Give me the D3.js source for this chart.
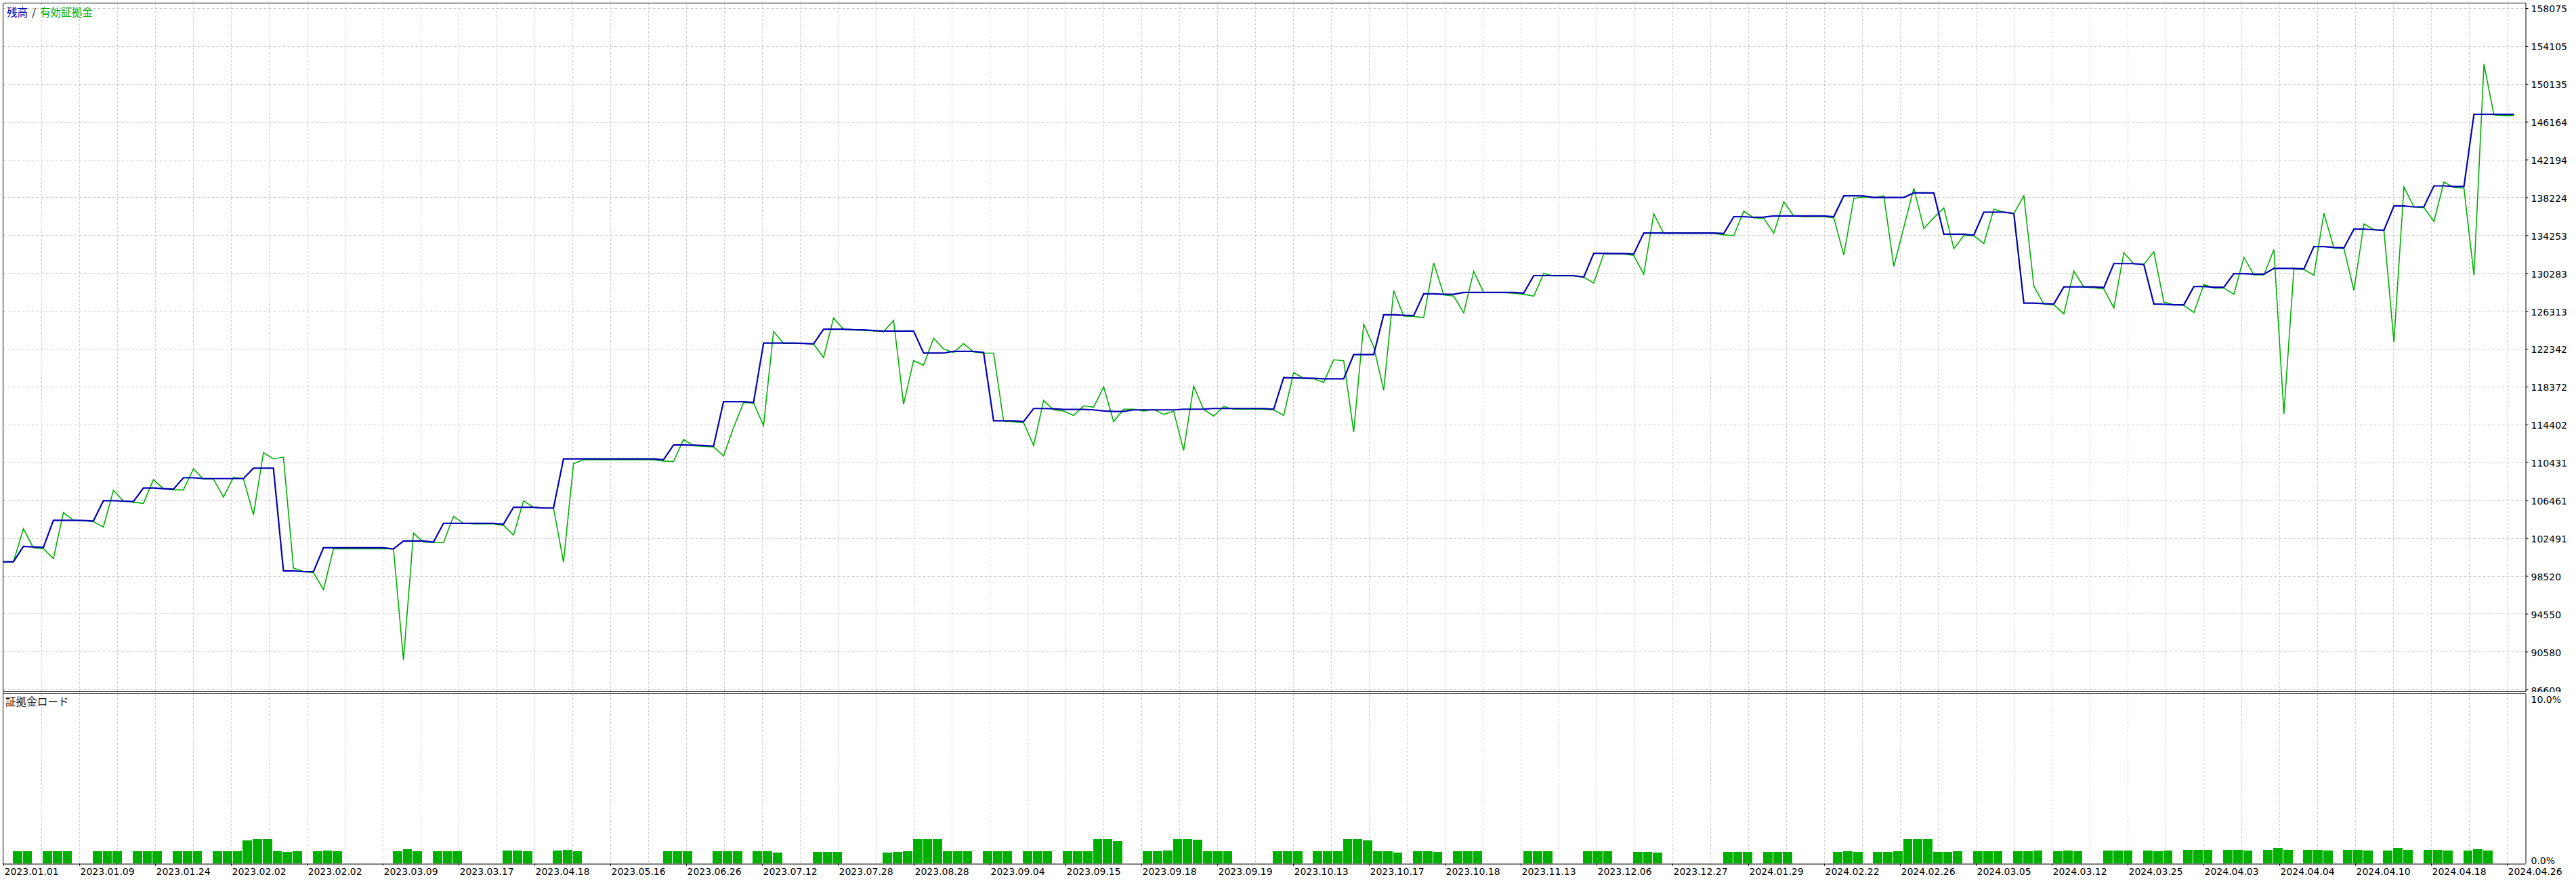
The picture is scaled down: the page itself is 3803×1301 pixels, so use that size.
<!DOCTYPE html>
<html><head><meta charset="utf-8">
<script src="https://cdn.jsdelivr.net/npm/d3@7"></script>
<style>html,body{margin:0;padding:0;background:#fff;overflow:hidden}svg{display:block}</style>
</head><body>
<svg id="chart" width="3803" height="1301"></svg>
<script>
// ---- data ----
const balance = [
100000,100000,101620,101570,101520,104360,104360,104360,104330,104290,
106410,106410,106370,106320,107740,107740,107670,107620,108820,108820,
108730,108730,108730,108730,108730,109820,109820,109820,99040,99040,
98970,98970,101470,101470,101470,101470,101470,101470,101470,101360,
102180,102180,102180,102070,104040,104040,104040,104040,104040,104040,
103950,105720,105720,105720,105640,105640,110800,110800,110800,110800,
110800,110800,110800,110800,110800,110800,110710,112250,112250,112230,
112200,112140,116800,116800,116800,116710,122940,122940,122940,122940,
122910,122850,124400,124400,124400,124350,124330,124260,124210,124210,
124210,124210,121890,121890,121890,122080,122080,122080,121960,114800,
114800,114800,114710,116080,116080,116060,115990,115990,115990,115940,
115820,115770,115770,115940,115940,115940,115940,115940,116010,116010,
116010,116080,116080,116080,116080,116080,116080,116010,119320,119290,
119270,119250,119200,119200,119200,121730,121730,121730,125910,125910,
125860,125820,128110,128110,128060,128060,128250,128250,128250,128250,
128250,128250,128180,130020,130020,130020,130020,130020,129860,132360,
132360,132340,132340,132290,134490,134490,134490,134490,134490,134490,
134490,134490,134440,136200,136200,136130,136150,136280,136280,136280,
136280,136280,136280,136200,138390,138390,138370,138220,138220,138220,
138220,138690,138690,138690,134360,134360,134360,134260,136680,136680,
136680,136530,127130,127130,127080,127050,128840,128840,128840,128840,
128770,131280,131280,131280,131180,127050,127020,126960,126960,128870,
128870,128810,128810,130230,130230,130170,130170,130780,130780,130780,
130720,133070,133070,132980,132920,134890,134890,134830,134770,137320,
137320,137230,137230,139430,139430,139370,139370,146930,146930,146930,
146930,146930];
const equity = [
100000,100000,103460,101470,101380,100340,105160,104360,104310,104220,
103650,107500,106370,106250,106130,108610,107670,107550,107550,109750,
108680,108680,106790,108850,108730,104930,111450,110790,110980,99350,
98990,98880,97080,101360,101360,101360,101360,101360,101360,101360,
89700,103010,102070,102040,102020,104770,104040,103980,103980,103980,
103840,102800,106390,105720,105640,105640,99970,110290,110710,110710,
110710,110710,110710,110710,110710,110710,110570,110520,112840,112170,
112110,112060,111100,114080,116710,116660,114300,124170,122910,122910,
122910,122850,121420,125570,124390,124320,124280,124210,124140,125320,
116530,121110,120620,123450,122320,121960,122890,122010,121890,121890,
114760,114690,114590,112200,116930,115940,115820,115350,116360,116220,
118350,114710,116010,116010,115820,115990,115470,115800,111680,118420,
115990,115280,116290,116010,116010,116010,115990,115940,115350,119840,
119250,119200,118820,121190,121090,113620,124920,122560,117990,128440,
125770,125720,125630,131350,127990,127870,126100,130470,128230,128230,
128230,128180,128060,127870,130260,129980,129980,129980,129860,129240,
132290,132290,132290,132130,130170,136500,134440,134440,134440,134440,
134440,134440,134290,134210,136780,136080,136030,134460,137770,136250,
136200,136200,136200,136080,132180,138120,138270,138190,138390,130980,
135080,139190,134960,136080,137120,132850,134210,134210,133390,137000,
136680,136530,138390,128920,127030,126960,126010,130490,128820,128750,
128620,126630,132420,131240,131210,132520,127250,126960,126900,126150,
129090,128710,128710,128070,131940,130090,130090,132750,115530,130720,
130660,130060,136570,132890,132860,128460,135440,134830,134770,123050,
139320,137230,137150,135700,139840,139260,139200,130060,152200,146870,
146810,146810];
const loadIndex = [
1,2,4,5,6,9,10,11,13,14,15,17,18,19,21,22,23,24,25,26,27,28,29,31,32,33,
39,40,41,43,44,45,50,51,52,55,56,57,66,67,68,71,72,73,75,76,77,81,82,83,
88,89,90,91,92,93,94,95,96,98,99,100,102,103,104,106,107,108,109,110,111,
114,115,116,117,118,119,120,121,122,127,128,129,131,132,133,134,135,136,
137,138,139,141,142,143,145,146,147,152,153,154,158,159,160,163,164,165,
172,173,174,176,177,178,183,184,185,187,188,189,190,191,192,193,194,195,
197,198,199,201,202,203,205,206,207,210,211,212,214,215,216,218,219,220,
222,223,224,226,227,228,230,231,232,234,235,236,238,239,240,242,243,244,
246,247,248];
const loadValue = [
0.70,0.70,0.73,0.73,0.70,0.70,0.70,0.70,0.70,0.70,0.70,0.70,0.70,0.70,0.70,0.70,0.70,1.35,1.45,1.45,0.70,0.68,0.73,0.73,0.77,0.73,
0.70,0.84,0.73,0.70,0.70,0.70,0.76,0.76,0.73,0.77,0.81,0.73,0.73,0.73,0.73,0.73,0.73,0.73,0.70,0.70,0.64,0.66,0.66,0.66,
0.64,0.66,0.70,1.45,1.45,1.45,0.70,0.70,0.70,0.70,0.73,0.70,0.73,0.73,0.73,0.73,0.73,0.73,1.45,1.45,1.30,
0.73,0.73,0.77,1.45,1.45,1.40,0.73,0.73,0.73,0.70,0.70,0.70,0.73,0.73,0.70,1.45,1.45,1.35,
0.70,0.73,0.64,0.70,0.70,0.68,0.70,0.70,0.70,0.70,0.70,0.70,0.70,0.70,0.70,0.68,0.68,0.64,
0.66,0.66,0.66,0.66,0.66,0.66,0.66,0.70,0.68,0.66,0.66,0.70,1.45,1.45,1.45,0.66,0.66,0.70,
0.70,0.70,0.70,0.70,0.70,0.74,0.73,0.77,0.73,0.77,0.77,0.77,0.77,0.73,0.77,0.81,0.81,0.81,
0.81,0.81,0.77,0.81,0.90,0.81,0.81,0.81,0.77,0.81,0.81,0.77,0.77,0.90,0.81,0.81,0.81,0.77,
0.77,0.84,0.77];
const yTickValues = [158075,154105,150135,146164,142194,138224,134253,130283,126313,122342,
118372,114402,110431,106461,102491,98520,94550,90580,86609];
const xTickLabels = ["2023.01.01","2023.01.09","2023.01.24","2023.02.02","2023.02.02","2023.03.09",
"2023.03.17","2023.04.18","2023.05.16","2023.06.26","2023.07.12","2023.07.28","2023.08.28","2023.09.04",
"2023.09.15","2023.09.18","2023.09.19","2023.10.13","2023.10.17","2023.10.18","2023.11.13","2023.12.06",
"2023.12.27","2024.01.29","2024.02.22","2024.02.26","2024.03.05","2024.03.12","2024.03.25","2024.04.03",
"2024.04.04","2024.04.10","2024.04.18","2024.04.26"];
const loadTickValues = [10, 0];
const legendBalance = "残高", legendEquity = "有効証拠金", loadTitle = "証拠金ロード";

// ---- layout ----
const L = 4.5, R = 3728.5, TOP = 4.5, MAIN_B = 1021.5, LOW_T = 1024.5, LOW_B = 1275.5;
const blue = "#0000b4", green = "#00b000", gridC = "#c8c8c8";
const svg = d3.select("#chart");
svg.append("rect").attr("width",3803).attr("height",1301).attr("fill","#fff");
const defs = svg.append("defs");
defs.append("clipPath").attr("id","mainClip").append("rect")
  .attr("x",0).attr("y",0).attr("width",3803).attr("height",1022);

const x = d3.scaleLinear().domain([0, balance.length-1]).range([5, 3711.4]);
const y = d3.scaleLinear().domain([86609, 158075]).range([1018.2, 12]);
const yLoad = d3.scaleLinear().domain([0, 10]).range([1275, 1024]);
const grid = d3.scaleLinear().domain([0, 66]).range([5, 3701]);
const gridIdx = d3.range(1, 67);

// vertical grid
const g = svg.append("g");
[[TOP, MAIN_B],[LOW_T, LOW_B]].forEach(([a,b]) => {
  g.selectAll(null).data(gridIdx).enter().append("line")
    .attr("x1", d => Math.round(grid(d))+0.5).attr("x2", d => Math.round(grid(d))+0.5)
    .attr("y1", a).attr("y2", b)
    .attr("stroke", gridC).attr("stroke-dasharray","3,3");
});
// horizontal grid
g.selectAll(null).data(yTickValues).enter().append("line")
  .attr("x1", L).attr("x2", R)
  .attr("y1", d => Math.round(y(d))+0.5).attr("y2", d => Math.round(y(d))+0.5)
  .attr("stroke", gridC).attr("stroke-dasharray","4,3");

// load bars
const bars = loadIndex.map((k,i)=>({k, v: loadValue[i]}));
svg.append("g").selectAll("rect").data(bars).enter().append("rect")
  .attr("x", d => Math.round(x(d.k)) - 1)
  .attr("width", d => Math.round(x(d.k+1)) - Math.round(x(d.k)) - 1)
  .attr("y", d => yLoad(d.v))
  .attr("height", d => yLoad(0) - yLoad(d.v))
  .attr("fill", green).attr("shape-rendering","crispEdges");

// lines
const line = d3.line().x((d,i)=>x(i)).y(d=>y(d));
svg.append("path").datum(equity).attr("d", line)
  .attr("fill","none").attr("stroke", green).attr("stroke-width",1.6).attr("stroke-linejoin","miter");
svg.append("path").datum(balance).attr("d", line)
  .attr("fill","none").attr("stroke", blue).attr("stroke-width",2.2).attr("stroke-linejoin","miter");

// frame
const f = svg.append("g").attr("stroke","#000").attr("stroke-width",1).attr("shape-rendering","crispEdges");
f.append("line").attr("x1",L).attr("x2",L).attr("y1",TOP).attr("y2",LOW_B);
f.append("line").attr("x1",L).attr("x2",R).attr("y1",TOP).attr("y2",TOP);
f.append("line").attr("x1",L).attr("x2",R).attr("y1",MAIN_B).attr("y2",MAIN_B);
f.append("line").attr("x1",L).attr("x2",R).attr("y1",LOW_T).attr("y2",LOW_T);

const font = "'DejaVu Sans', Verdana, sans-serif";
// right value axis (labels clipped at the panel bottom, as in the original)
const ya = svg.append("g").attr("clip-path","url(#mainClip)").append("g").attr("transform",`translate(${R},0)`)
  .call(d3.axisRight(y).tickValues(yTickValues).tickSize(4).tickSizeOuter(0).tickPadding(4).tickFormat(d3.format("d")));
ya.select(".domain").attr("d", `M0.5,${TOP}V${MAIN_B}`).attr("stroke","#000");
ya.selectAll(".tick text").attr("font-family",font).attr("font-size",14).attr("fill","#000").attr("dy","0.42em");
ya.selectAll(".tick line").attr("stroke","#000");

// right load axis
const la = svg.append("g").attr("transform",`translate(${R},0)`)
  .call(d3.axisRight(yLoad).tickValues(loadTickValues).tickSize(0).tickSizeOuter(0).tickPadding(8).tickFormat(d => d3.format(".1f")(d)+"%"));
la.select(".domain").attr("d", `M0.5,${LOW_T}V${LOW_B}`).attr("stroke","#000");
la.selectAll(".tick text").attr("font-family",font).attr("font-size",14).attr("fill","#000")
  .attr("dy", d => d === 10 ? "0.95em" : "0.05em");

// bottom date axis
const xa = svg.append("g").attr("transform",`translate(0,${LOW_B})`)
  .call(d3.axisBottom(grid).tickValues(d3.range(0, 67, 2)).tickSize(3).tickSizeOuter(0).tickPadding(4)
    .tickFormat((d) => xTickLabels[d/2]));
xa.select(".domain").attr("d", `M${L},0.5H${R}`).attr("stroke","#000");
xa.selectAll(".tick line").attr("stroke","#000");
xa.selectAll(".tick text").attr("font-family",font).attr("font-size",14).attr("fill","#000")
  .attr("text-anchor","start").attr("dx", 1);

// legends
const jp = "'Noto Sans CJK JP', sans-serif";
const lg = svg.append("text").attr("y", 24).attr("font-family", jp).attr("font-size", 15.6);
lg.append("tspan").attr("x", 10).attr("fill", blue).text(legendBalance);
lg.append("tspan").attr("x", 47).attr("fill", "#000").text("/");
lg.append("tspan").attr("x", 59).attr("fill", green).text(legendEquity);
svg.append("text").attr("x", 8).attr("y", 1042).attr("font-family", jp).attr("font-size", 15.6)
  .attr("fill", "#222").text(loadTitle);
</script>
</body></html>
